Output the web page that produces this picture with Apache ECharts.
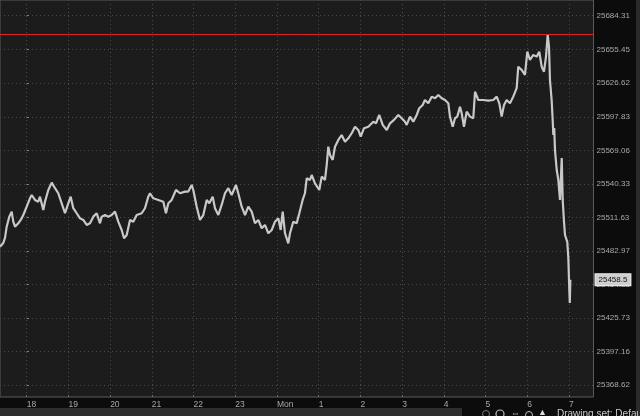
<!DOCTYPE html>
<html>
<head>
<meta charset="utf-8">
<script src="https://cdn.jsdelivr.net/npm/echarts@6/dist/echarts.min.js"></script>
<style>html,body{margin:0;padding:0;background:#0c0c0c;}#c{width:640px;height:416px;}</style>
</head>
<body>
<div id="c"></div>
<script>
// minutes since 18:00
var times = [-38.4,-33.7,-31.2,-28.8,-25.0,-21.6,-19.3,-16.8,-12.1,-7.2,-4.9,0,4.7,7.2,11.9,16.7,19.1,23.9,26.3,31.1,36.0,40.7,45.4,50.3,55.1,59.8,63.3,67.0,71.9,76.7,81.4,86.3,91.0,95.8,100.7,105.4,107.9,112.6,117.4,122.2,127.0,131.7,136.6,140.0,143.8,148.6,153.3,158.2,165.4,170.1,174.9,177.3,182.1,189.3,191.7,196.5,200.3,203.7,208.5,214.7,220.5,227.7,232.4,237.3,239.6,244.5,249.2,254.0,258.9,262.6,267.5,270.8,275.6,280.4,285.2,290.0,294.8,301.0,304.3,309.2,314.0,318.7,323.6,328.3,333.1,338.0,342.7,347.5,352.4,357.1,361.9,365.3,368.2,371.5,376.2,378.7,383.4,388.3,392.1,396.9,400.2,402.7,407.4,409.9,414.6,420.8,424.3,426.6,429.0,431.5,433.8,436.2,440.1,443.4,448.2,453.0,457.8,462.5,467.4,472.2,476.9,480.4,485.1,491.3,498.5,502.4,507.1,512.0,517.8,522.5,528.3,534.4,539.3,544.1,546.5,551.3,556.0,560.9,564.6,569.5,572.8,577.6,582.5,587.2,592.0,596.9,601.6,606.4,608.8,612.7,616.0,619.3,623.2,625.6,628.9,632.8,637.6,642.3,644.8,649.5,656.7,663.9,671.1,676.0,679.7,683.1,686.5,690.3,695.1,699.8,704.7,707.0,711.9,716.6,720.0,723.8,728.6,733.5,737.2,740.7,744.0,746.9,749.3,751.2,752.6,755.0,756.5,757.4,758.7,759.8,762.3,764.6,767.0,769.5,770.9,772.8,774.2,777.5,779.0,780.4,781.1,781.9];
var prices = [25486.8,25490.0,25494.3,25503.9,25512.5,25516.8,25508.2,25503.9,25506.8,25511.1,25513.9,25521.0,25528.2,25531.0,25526.8,25525.3,25529.6,25518.2,25525.3,25535.3,25541.6,25536.8,25532.5,25523.9,25515.4,25523.9,25529.6,25519.7,25515.4,25511.1,25509.7,25505.4,25506.8,25512.5,25515.4,25506.8,25512.5,25513.9,25512.5,25513.9,25516.8,25508.2,25501.1,25494.0,25496.8,25509.7,25508.2,25513.9,25515.4,25519.7,25529.6,25532.5,25528.2,25526.8,25528.2,25525.3,25515.4,25523.9,25526.8,25535.3,25532.5,25533.9,25533.9,25539.6,25535.3,25521.0,25509.7,25513.9,25526.8,25523.9,25529.6,25519.7,25513.9,25522.5,25532.5,25536.8,25531.0,25539.6,25532.5,25521.0,25513.9,25521.0,25516.8,25506.8,25509.7,25502.6,25505.4,25498.3,25501.1,25508.2,25511.1,25501.1,25516.8,25498.3,25489.7,25498.3,25508.2,25506.8,25515.4,25526.8,25532.5,25545.3,25543.9,25548.1,25541.0,25535.3,25546.7,25548.1,25543.9,25556.7,25572.3,25565.2,25561.0,25572.3,25578.1,25582.3,25576.6,25579.5,25583.8,25589.4,25586.6,25580.9,25588.1,25589.4,25593.7,25592.3,25599.4,25590.9,25586.6,25592.3,25595.2,25599.4,25596.6,25593.7,25590.9,25598.0,25593.7,25599.4,25605.2,25608.0,25612.2,25609.4,25615.1,25613.7,25616.5,25613.7,25612.2,25609.4,25598.0,25589.4,25596.6,25598.0,25606.5,25600.9,25589.4,25602.2,25598.0,25596.6,25619.3,25612.2,25612.2,25611.7,25612.2,25615.1,25609.4,25598.0,25608.0,25612.2,25609.4,25615.1,25622.3,25640.7,25637.9,25633.6,25653.5,25646.4,25650.7,25649.3,25653.5,25640.7,25636.4,25649.3,25667.8,25657.8,25629.3,25612.2,25595.2,25582.3,25588.3,25569.5,25552.4,25543.9,25526.8,25562.7,25526.8,25507.9,25496.8,25490.9,25477.2,25449.8,25438.7,25458.5];
var priceTicks = [25368.62,25397.16,25425.73,25454.33,25482.97,25511.63,25540.33,25569.06,25597.83,25626.62,25655.45,25684.31];
var hourTicks = [0,60,120,180,240,300,360,420,480,540,600,660,720,780];
var hourLabels = ['18','19','20','21','22','23','Mon','1','2','3','4','5','6','7'];
var highLine = 25668.7;
var lastPrice = 25458.5;

var chart = echarts.init(document.getElementById('c'), null, {renderer:'canvas'});
var FONT = '"Liberation Sans",sans-serif';
chart.setOption({
  animation: false,
  backgroundColor: '#0c0c0c',
  grid: {left: 0, top: 0, right: 46.5, bottom: 19, show: true, backgroundColor: '#1c1c1c', borderColor: '#5a5a5a', borderWidth: 1},
  xAxis: {
    type: 'value', min: -38.4, max: 815.2,
    axisLine: {show: false},
    axisTick: {show: true, inside: true, length: 2, lineStyle: {color: '#6a6a6a'}, customValues: hourTicks},
    axisLabel: {customValues: hourTicks, color: '#a8a8a8', fontSize: 8.5, fontFamily: FONT, align: 'left', margin: 3,
      formatter: function(v){ var i = hourTicks.indexOf(v); return i >= 0 ? hourLabels[i] : ''; }},
    splitLine: {show: true, lineStyle: {color: '#4a4a4a', type: [1, 3], width: 1}}
  },
  yAxis: {
    type: 'value', position: 'right', min: 25358.33, max: 25697.7,
    axisLine: {show: false},
    axisTick: {show: true, length: 2, lineStyle: {color: '#8a8a8a'}, customValues: priceTicks},
    axisLabel: {customValues: priceTicks, color: '#a8a8a8', fontSize: 8, fontFamily: FONT, margin: 3,
      formatter: function(v){ return v.toFixed(2); }},
    splitLine: {show: true, lineStyle: {color: '#4a4a4a', type: [1, 3], width: 1}}
  },
  series: [{
    type: 'line',
    data: times.map(function(t, i){ return [t, prices[i]]; }),
    showSymbol: false,
    lineStyle: {color: '#c8c8c8', width: 2.2},
    markLine: {
      silent: true, symbol: 'none',
      data: [
        {yAxis: highLine, lineStyle: {color: '#e02424', width: 1, type: 'solid'}, label: {show: false}},
        {yAxis: lastPrice, lineStyle: {color: 'rgba(0,0,0,0)', width: 1}, label: {show: true, position: 'end', distance: 2,
          formatter: String(lastPrice), color: '#111', backgroundColor: '#cfcfcf', borderColor: '#eeeeee', borderWidth: 1,
          padding: [2, 3, 1, 3], fontSize: 8, fontFamily: FONT}}
      ]
    }
  }],
  graphic: [
    {type: 'rect', shape: {x: 0, y: 408, width: 462, height: 8}, style: {fill: '#2e2e2e'}, silent: true},
    {type: 'rect', shape: {x: 636, y: 0, width: 4, height: 416}, style: {fill: '#2a2a2a'}, silent: true},
    {type: 'circle', shape: {cx: 486, cy: 414, r: 3.5}, style: {fill: 'none', stroke: '#777', lineWidth: 1}, silent: true},
    {type: 'circle', shape: {cx: 500, cy: 414, r: 4}, style: {fill: 'none', stroke: '#bbb', lineWidth: 1.2}, silent: true},
    {type: 'text', style: {x: 511, y: 409, text: '\u21d4', fill: '#bbb', fontSize: 9}, silent: true},
    {type: 'circle', shape: {cx: 529, cy: 415, r: 3.5}, style: {fill: 'none', stroke: '#bbb', lineWidth: 1}, silent: true},
    {type: 'text', style: {x: 538, y: 408, text: '\u25b2', fill: '#ddd', fontSize: 9}, silent: true},
    {type: 'text', style: {x: 557, y: 409, text: 'Drawing set: Default', fill: '#c8c8c8', fontSize: 10, fontFamily: FONT}, silent: true}
  ]
});
</script>
</body>
</html>
